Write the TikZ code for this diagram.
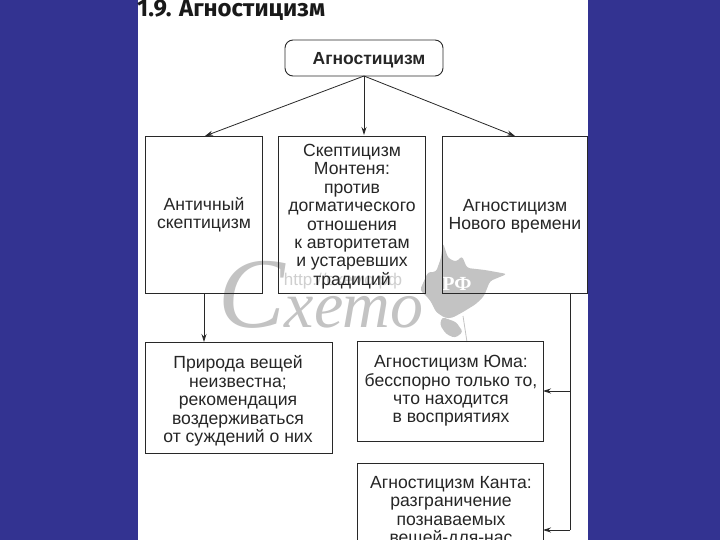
\documentclass[tikz,border=0pt]{standalone}
\usepackage{fontspec}
\setmainfont{Liberation Sans}
\newfontfamily\titlefont{Fira Sans}
\newfontfamily\markfont{Liberation Serif}
\usetikzlibrary{arrows.meta}
\definecolor{slide}{RGB}{51,51,145}
\definecolor{inkc}{RGB}{40,40,40}
\definecolor{markc}{RGB}{195,195,195}
\tikzset{
 x=1pt,y=-1pt,
 txt/.style={align=center,font=\fontsize{17.6}{18.4}\selectfont,text=black!85,inner sep=0pt},
 conn/.style={draw=inkc,line width=0.8pt,-{Stealth[length=8pt,width=5pt]}},
 linec/.style={draw=inkc,line width=0.9pt}
}
\begin{document}
\begin{tikzpicture}
\path[use as bounding box,fill=slide] (0,0) rectangle (720,540);
\clip (0,0) rectangle (720,540);
\fill[white] (138,0) rectangle (588,540);
% watermark
\node[anchor=base west,markc,font=\markfont\itshape,inner sep=0pt] (mark) at (218,327) {{\fontsize{100}{100}\selectfont С}{\fontsize{66}{66}\selectfont хето}};
\fill[markc,rounded corners=3pt] (420,290) -- (428,272) -- (436,272) -- (441,258) -- (443,243) -- (448,258) -- (456,262) -- (462,256) -- (467,268) -- (485,270) -- (507,274) -- (490,281) -- (484,296) -- (476,304) -- (463,312) -- (452,318) -- (445,318) -- (436,312) -- (430,300) -- cycle;
\fill[markc,rounded corners=3pt] (442,317) -- (456,322) -- (463,332) -- (455,338) -- (446,334) -- (440,325) -- cycle;
\draw[markc,line width=0.8pt] (463,316) -- (467,342);
\node[white,font=\bfseries\markfont\fontsize{20}{20}\selectfont,inner sep=0pt] (rf) at (457,284) {РФ};
\node[markc!80!white,font=\fontsize{17}{17}\selectfont,inner sep=0pt] (url) at (343,281) {http://схемо.рф};
% title
\node[anchor=west,inner sep=0pt,font=\titlefont\bfseries\fontsize{24}{24}\selectfont,text=black!90] (title) at (137,10.5) {1.9. Агностицизм};
% boxes
\draw[linec,rounded corners=8pt] (285,40) rectangle (443,76);
\coordinate (rootb) at (364,76);
\node[font=\bfseries\fontsize{17.5}{17.5}\selectfont,text=black!85,inner sep=0pt] (root) at (369,60) {Агностицизм};
\draw[linec] (145,136) rectangle (262,293);
\draw[linec] (278,136) rectangle (425,293);
\draw[linec] (442,136) rectangle (587,293);
\draw[linec] (145,342) rectangle (332,453);
\draw[linec] (357,341) rectangle (543,441);
\draw[linec] (357,463) rectangle (543,545);
\coordinate (t1) at (205,136);
\coordinate (t2) at (364,135);
\coordinate (t3) at (515,136);
\coordinate (b1) at (204,293);
\coordinate (t4) at (204,342);
\coordinate (b3) at (570,293);
\coordinate (j5) at (570,391);
\coordinate (j6) at (570,530);
\coordinate (e5) at (543,391);
\coordinate (e6) at (543,530);
% texts
\node[txt] (a) at (204,215) {Античный\\скептицизм};
\node[txt] (b) at (352,216.5) {Скептицизм\\Монтеня:\\против\\догматического\\отношения\\к авторитетам\\и устаревших\\традиций};
\node[txt] (c) at (515,216) {Агностицизм\\Нового времени};
\node[txt] (d) at (238,401) {Природа вещей\\неизвестна;\\рекомендация\\воздерживаться\\от суждений о них};
\node[txt] (e) at (451,391) {Агностицизм Юма:\\бесспорно только то,\\что находится\\в восприятиях};
\node[txt,anchor=north] (f) at (451,476) {Агностицизм Канта:\\разграничение\\познаваемых\\вещей-для-нас};
% connectors
\draw[conn] (rootb) -- (t1);
\draw[conn] (rootb) -- (t2);
\draw[conn] (rootb) -- (t3);
\draw[conn] (b1) -- (t4);
\draw[linec] (b3) -- (j6);
\draw[conn] (j5) -- (e5);
\draw[conn] (j6) -- (e6);
\end{tikzpicture}
\end{document}
